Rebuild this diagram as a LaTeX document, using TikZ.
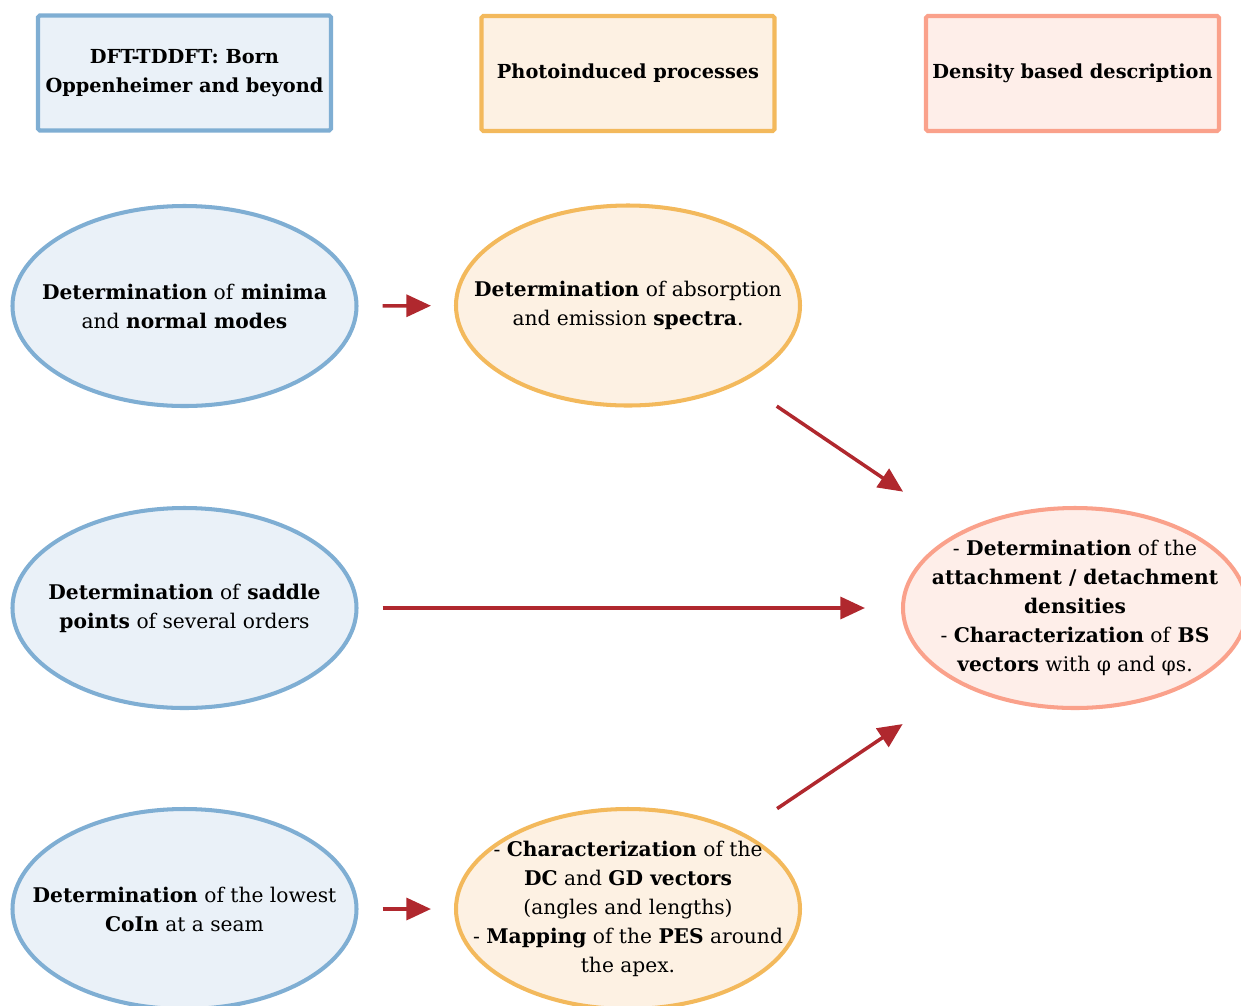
\documentclass[tikz,border=0pt]{standalone}
\usepackage{fontspec}
\setmainfont{DejaVu Serif}
\usetikzlibrary{shapes.geometric,arrows.meta}
\definecolor{bluedraw}{HTML}{7FAED3}
\definecolor{bluefill}{HTML}{EAF1F8}
\definecolor{orangedraw}{HTML}{F3B95C}
\definecolor{orangefill}{HTML}{FDF1E3}
\definecolor{salmondraw}{HTML}{FAA18B}
\definecolor{salmonfill}{HTML}{FEEEE9}
\definecolor{arrowred}{HTML}{B0282E}

\tikzset{
  headbox/.style={draw, line width=2.3pt, rounded corners=1pt, inner xsep=2pt, minimum width=293*0.02cm, minimum height=115*0.02cm, align=center, font=\fontsize{11}{16.5}\selectfont\bfseries},
  stepnode/.style={ellipse, draw, line width=2.3pt, minimum width=344*0.02cm, minimum height=200*0.02cm, inner xsep=-25pt, inner ysep=-10pt, align=center, font=\fontsize{11.5}{16.5}\selectfont},
  redarrow/.style={arrowred, line width=2pt, -{Triangle[length=14pt,width=12.5pt]}}
}

\begin{document}
\begin{tikzpicture}[x=0.02cm,y=-0.02cm]
				\useasboundingbox (0,0) rectangle (1241,1005);
				% column headings
				\node[headbox, draw=bluedraw, fill=bluefill] (dft) at (184.5,73) {DFT-TDDFT: Born\\Oppenheimer and beyond};
				\node[headbox, draw=orangedraw, fill=orangefill] (photo) at (628,73.5) {Photoinduced processes};
				\node[headbox, draw=salmondraw, fill=salmonfill] (dens) at (1072.5,73.5) {Density based description};
				% left column
				\node[stepnode, draw=bluedraw, fill=bluefill] (minima) at (184.5,306) {\textbf{Determination} of \textbf{minima}\\and \textbf{normal modes}};
				\node[stepnode, draw=bluedraw, fill=bluefill] (saddle) at (184.5,608) {\textbf{Determination} of \textbf{saddle}\\\textbf{points} of several orders};
				\node[stepnode, draw=bluedraw, fill=bluefill] (coin) at (184.5,909) {\textbf{Determination} of the lowest\\\textbf{CoIn} at a seam};
				% middle column
				\node[stepnode, draw=orangedraw, fill=orangefill] (spectra) at (628,305.5) {\textbf{Determination} of absorption\\and emission \textbf{spectra}.};
				\node[stepnode, draw=orangedraw, fill=orangefill] (vectors) at (628,909) {- \textbf{Characterization} of the\\\textbf{DC} and \textbf{GD vectors}\\(angles and lengths)\\- \textbf{Mapping} of the \textbf{PES} around\\the apex.};
				% right column
				\node[stepnode, draw=salmondraw, fill=salmonfill] (attach) at (1075,608) {- \textbf{Determination} of the\\\textbf{attachment / detachment}\\\textbf{densities}\\- \textbf{Characterization} of \textbf{BS}\\\textbf{vectors} with φ and φs.};
				% arrows
				\draw[redarrow, shorten <=24*0.02cm, shorten >=23*0.02cm] (minima) -- (spectra);
				\draw[redarrow, shorten <=24*0.02cm, shorten >=36*0.02cm] (saddle) -- (attach);
				\draw[redarrow, shorten <=24*0.02cm, shorten >=23*0.02cm] (coin) -- (vectors);
				\draw[redarrow, shorten <=42*0.02cm, shorten >=70*0.02cm] (spectra) -- (attach);
				\draw[redarrow, shorten <=42*0.02cm, shorten >=70*0.02cm] (vectors) -- (attach);
			\end{tikzpicture}
\end{document}
